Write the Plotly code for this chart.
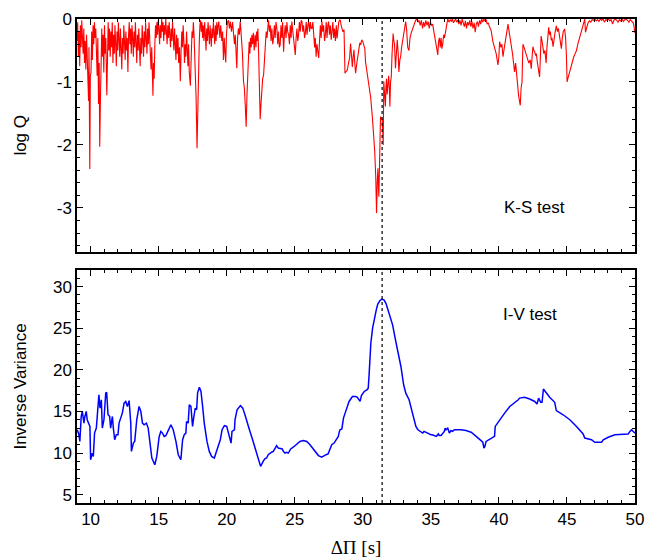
import plotly.graph_objects as go
from plotly.subplots import make_subplots

# --- K-S test: log Q against trial period spacing ---
ks_period = [
    9.00, 9.05, 9.10, 9.15, 9.20, 9.25, 9.30, 9.35, 9.40, 9.45, 9.50, 9.55, 9.60, 9.65, 9.70, 9.75,
    9.80, 9.85, 9.88, 9.94, 9.98, 10.03, 10.08, 10.13, 10.18, 10.23, 10.28, 10.33, 10.38, 10.43, 10.48,
    10.53, 10.58, 10.63, 10.67, 10.72, 10.77, 10.82, 10.87, 10.92, 10.97, 11.02, 11.07, 11.12, 11.19,
    11.24, 11.29, 11.34, 11.39, 11.44, 11.49, 11.54, 11.59, 11.64, 11.69, 11.74, 11.79, 11.84, 11.89,
    11.94, 11.99, 12.04, 12.09, 12.14, 12.19, 12.24, 12.29, 12.34, 12.39, 12.44, 12.49, 12.54, 12.59,
    12.64, 12.69, 12.74, 12.79, 12.84, 12.89, 12.94, 12.99, 13.04, 13.09, 13.14, 13.19, 13.24, 13.29,
    13.34, 13.39, 13.44, 13.49, 13.54, 13.59, 13.64, 13.69, 13.74, 13.79, 13.84, 13.89, 13.94, 13.99,
    14.04, 14.09, 14.14, 14.19, 14.24, 14.29, 14.34, 14.39, 14.44, 14.49, 14.54, 14.58, 14.62, 14.67,
    14.72, 14.77, 14.82, 14.87, 14.92, 14.97, 15.02, 15.07, 15.12, 15.17, 15.22, 15.27, 15.32, 15.37,
    15.42, 15.47, 15.52, 15.57, 15.62, 15.67, 15.72, 15.77, 15.82, 15.87, 15.92, 15.97, 16.02, 16.07,
    16.12, 16.17, 16.22, 16.27, 16.32, 16.37, 16.42, 16.47, 16.53, 16.59, 16.65, 16.70, 16.75, 16.80,
    16.85, 16.90, 16.95, 17.00, 17.05, 17.10, 17.15, 17.20, 17.25, 17.33, 17.40, 17.45, 17.50, 17.55,
    17.60, 17.65, 17.70, 17.75, 17.82, 17.88, 17.93, 17.98, 18.03, 18.08, 18.13, 18.18, 18.23, 18.28,
    18.33, 18.38, 18.43, 18.48, 18.53, 18.58, 18.63, 18.68, 18.73, 18.78, 18.83, 18.87, 18.92, 18.97,
    19.02, 19.07, 19.12, 19.17, 19.22, 19.27, 19.32, 19.37, 19.42, 19.50, 19.56, 19.64, 19.70, 19.76,
    19.82, 19.88, 19.93, 19.98, 20.05, 20.13, 20.20, 20.27, 20.35, 20.43, 20.50, 20.57, 20.63, 20.69,
    20.74, 20.80, 20.86, 20.93, 20.99, 21.05, 21.10, 21.16, 21.23, 21.30, 21.37, 21.43, 21.49, 21.55,
    21.60, 21.65, 21.70, 21.75, 21.80, 21.85, 21.90, 21.96, 22.02, 22.09, 22.15, 22.20, 22.25, 22.29,
    22.34, 22.39, 22.46, 22.52, 22.58, 22.64, 22.71, 22.77, 22.83, 22.90, 22.96, 23.02, 23.07, 23.14,
    23.20, 23.26, 23.32, 23.38, 23.44, 23.50, 23.56, 23.62, 23.69, 23.75, 23.81, 23.87, 23.93, 23.99,
    24.05, 24.11, 24.18, 24.24, 24.30, 24.36, 24.42, 24.48, 24.55, 24.61, 24.67, 24.73, 24.79, 24.86,
    24.92, 24.98, 25.04, 25.10, 25.16, 25.22, 25.28, 25.34, 25.40, 25.47, 25.53, 25.59, 25.65, 25.72,
    25.78, 25.84, 25.90, 25.96, 26.02, 26.09, 26.15, 26.21, 26.27, 26.33, 26.40, 26.46, 26.51, 26.57,
    26.63, 26.70, 26.76, 26.82, 26.88, 26.94, 27.00, 27.06, 27.12, 27.19, 27.25, 27.31, 27.37, 27.43,
    27.49, 27.55, 27.61, 27.68, 27.74, 27.80, 27.86, 27.92, 27.99, 28.05, 28.11, 28.17, 28.23, 28.29,
    28.35, 28.41, 28.47, 28.53, 28.62, 28.69, 28.78, 28.86, 28.95, 29.03, 29.10, 29.17, 29.23, 29.29,
    29.35, 29.41, 29.47, 29.55, 29.64, 29.72, 29.78, 29.84, 29.92, 30.00, 30.08, 30.15, 30.20, 30.32,
    30.45, 30.58, 30.70, 30.80, 30.87, 30.95, 31.01, 31.06, 31.11, 31.15, 31.18, 31.22, 31.25, 31.30,
    31.36, 31.42, 31.47, 31.50, 31.54, 31.60, 31.66, 31.70, 31.74, 31.79, 31.84, 31.90, 31.95, 31.99,
    32.04, 32.09, 32.15, 32.23, 32.28, 32.33, 32.40, 32.47, 32.53, 32.60, 32.65, 32.72, 32.78, 32.85,
    32.90, 32.98, 33.07, 33.15, 33.22, 33.30, 33.39, 33.47, 33.56, 33.64, 33.72, 33.80, 33.88, 33.96,
    34.05, 34.13, 34.22, 34.30, 34.39, 34.47, 34.55, 34.63, 34.72, 34.80, 34.88, 34.96, 35.05, 35.13,
    35.25, 35.38, 35.51, 35.57, 35.63, 35.69, 35.75, 35.81, 35.87, 35.94, 36.00, 36.10, 36.17, 36.24,
    36.33, 36.42, 36.50, 36.58, 36.66, 36.74, 36.82, 36.90, 36.98, 37.06, 37.14, 37.22, 37.30, 37.38,
    37.46, 37.54, 37.62, 37.70, 37.78, 37.86, 37.94, 38.02, 38.10, 38.18, 38.26, 38.34, 38.42, 38.50,
    38.58, 38.66, 38.74, 38.82, 38.90, 38.98, 39.06, 39.14, 39.22, 39.30, 39.43, 39.55, 39.68, 39.80,
    39.93, 40.00, 40.05, 40.15, 40.22, 40.30, 40.40, 40.50, 40.58, 40.67, 40.75, 40.83, 40.91, 41.00,
    41.08, 41.15, 41.23, 41.30, 41.36, 41.44, 41.51, 41.57, 41.63, 41.70, 41.74, 41.77, 41.85, 41.92,
    42.00, 42.10, 42.20, 42.30, 42.38, 42.44, 42.50, 42.57, 42.63, 42.70, 42.75, 42.82, 42.90, 42.99,
    43.05, 43.10, 43.17, 43.24, 43.30, 43.38, 43.47, 43.53, 43.58, 43.66, 43.72, 43.78, 43.85, 43.90,
    43.98, 44.05, 44.12, 44.22, 44.30, 44.37, 44.45, 44.52, 44.59, 44.66, 44.73, 44.83, 44.90, 44.96,
    45.01, 45.10, 45.20, 45.30, 45.40, 45.50, 45.60, 45.70, 45.80, 45.90, 46.00, 46.10, 46.20, 46.31,
    46.36, 46.45, 46.55, 46.65, 46.75, 46.85, 46.95, 47.05, 47.15, 47.25, 47.35, 47.45, 47.55, 47.65,
    47.75, 47.85, 47.95, 48.05, 48.15, 48.25, 48.35, 48.45, 48.55, 48.65, 48.75, 48.85, 48.95, 49.05,
    49.15, 49.25, 49.35, 49.45, 49.55, 49.65, 49.75, 49.87, 49.93, 49.99,
]
ks_logq = [
    -0.35, -0.05, -0.60, -0.20, -0.75, -0.10, -0.45, -0.02, -0.30, -0.55, -0.15, -0.70, -0.35, -0.80, -0.25, -0.60,
    -0.90, -1.30, -0.45, -2.38, -0.90, -0.85, -0.20, -0.65, -0.10, -0.40, -0.05, -0.30, -0.15, -0.55, -0.90,
    -0.30, -1.35, -0.70, -2.03, -1.30, -0.50, -0.15, -0.60, -0.25, -0.85, -0.10, -0.55, -0.30, -1.21,
    -0.40, -0.05, -0.50, -0.15, -0.60, -0.20, -0.45, -0.05, -0.70, -0.25, -0.55, -0.10, -0.40, -0.75,
    -0.20, -0.50, -0.05, -0.35, -0.60, -0.15, -0.45, -0.80, -0.30, -0.55, -0.10, -0.40, -0.65, -0.20,
    -0.50, -0.30, -0.84, -0.25, -0.05, -0.40, -0.15, -0.55, -0.10, -0.30, -0.60, -0.20, -0.45, -0.05,
    -0.35, -0.70, -0.25, -0.50, -0.15, -0.40, -0.75, -0.30, -0.55, -0.10, -0.35, -0.60, -0.20, -0.45,
    -0.05, -0.30, -0.55, -0.15, -0.40, -0.05, -0.25, -0.55, -0.80, -0.45, -0.95, -1.22, -0.70, -0.95,
    -0.40, -0.10, -0.30, -0.05, -0.25, -0.02, -0.15, -0.40, -0.10, -0.30, -0.00, -0.20, -0.05, -0.35,
    -0.10, -0.25, -0.00, -0.15, -0.40, -0.10, -0.30, -0.05, -0.20, -0.45, -0.15, -0.35, -0.05, -0.25,
    -0.50, -0.15, -0.40, -0.65, -0.25, -0.55, -0.30, -0.70, -0.45, -0.99, -0.50, -0.20, -0.45, -0.10,
    -0.35, -0.70, -0.40, -0.60, -0.20, -0.45, -0.75, -0.40, -0.85, -1.06, -0.50, -0.20, -0.30, -0.05,
    -0.25, -0.50, -0.85, -1.25, -2.05, -1.15, -0.70, -0.40, -0.10, -0.02, -0.20, -0.05, -0.30, -0.10,
    -0.35, -0.05, -0.25, -0.50, -0.15, -0.35, -0.05, -0.20, -0.40, -0.10, -0.30, -0.44, -0.15, -0.30,
    -0.05, -0.25, -0.40, -0.10, -0.35, -0.05, -0.25, -0.10, -0.04, -0.30, -0.10, -0.35, -0.20, -0.65,
    -0.30, -0.55, -0.69, -0.25, -0.05, -0.02, -0.15, -0.04, -0.20, -0.05, -0.20, -0.40, -0.25, -0.55,
    -0.78, -0.30, -0.15, -0.25, -0.04, -0.20, -0.35, -0.56, -0.98, -1.10, -1.40, -1.71, -1.20, -0.85,
    -0.60, -0.36, -0.55, -0.30, -0.45, -0.25, -0.40, -0.22, -0.50, -0.25, -0.45, -0.20, -0.35, -0.15,
    -0.50, -0.89, -1.59, -1.35, -1.10, -0.95, -0.89, -0.60, -0.36, -0.20, -0.30, -0.10, -0.02, -0.20,
    -0.10, -0.35, -0.15, -0.40, -0.31, -0.10, -0.30, -0.05, -0.15, -0.40, -0.20, -0.45, -0.41, -0.10,
    -0.30, -0.05, -0.52, -0.25, -0.10, -0.30, -0.05, -0.20, -0.25, -0.40, -0.10, -0.30, -0.04, -0.20,
    -0.35, -0.45, -0.57, -0.30, -0.15, -0.35, -0.25, -0.05, -0.20, -0.02, -0.04, -0.20, -0.10, -0.30,
    -0.22, -0.05, -0.25, -0.10, -0.04, -0.20, -0.05, -0.15, -0.15, -0.05, -0.25, -0.45, -0.30, -0.60,
    -0.40, -0.50, -0.62, -0.35, -0.10, -0.30, -0.04, -0.20, -0.10, -0.35, -0.25, -0.05, -0.30, -0.10,
    -0.04, -0.25, -0.10, -0.33, -0.20, -0.05, -0.30, -0.15, -0.35, -0.10, -0.31, -0.15, -0.05, -0.02,
    -0.02, -0.10, -0.15, -0.20, -0.17, -0.86, -0.83, -0.81, -0.70, -0.62, -0.39, -0.55, -0.76, -0.60,
    -0.49, -0.70, -0.86, -0.72, -0.60, -0.50, -0.38, -0.41, -0.33, -0.36, -0.42, -0.47, -0.68, -0.85,
    -1.02, -1.25, -1.55, -1.85, -2.08, -2.50, -3.08, -2.60, -2.37, -2.65, -2.82, -2.40, -2.11, -1.55,
    -1.58, -1.60, -1.80, -2.00, -0.99, -1.20, -1.39, -1.10, -0.95, -1.20, -1.10, -0.90, -1.10, -1.39,
    -1.00, -0.92, -0.55, -0.23, -0.35, -0.40, -0.78, -0.45, -0.33, -0.55, -0.84, -0.65, -0.60, -0.45,
    -0.39, -0.25, -0.17, -0.04, -0.17, -0.45, -0.50, -0.30, -0.22, -0.17, -0.10, -0.08, -0.02, -0.00,
    -0.05, -0.02, -0.10, -0.02, -0.15, -0.05, -0.12, -0.02, -0.10, -0.04, -0.15, -0.05, -0.10, -0.08,
    -0.25, -0.40, -0.57, -0.35, -0.30, -0.45, -0.30, -0.47, -0.40, -0.25, -0.30, -0.18, -0.05, -0.00,
    -0.05, -0.01, -0.04, -0.00, -0.06, -0.02, -0.00, -0.05, -0.02, -0.08, -0.02, -0.10, -0.00, -0.06,
    -0.12, -0.03, -0.15, -0.05, -0.10, -0.02, -0.12, -0.04, -0.15, -0.06, -0.21, -0.08, -0.04, -0.12,
    -0.02, -0.08, -0.00, -0.05, -0.00, -0.03, -0.01, -0.08, -0.06, -0.12, -0.18, -0.35, -0.47, -0.55,
    -0.73, -0.60, -0.36, -0.45, -0.40, -0.60, -0.45, -0.32, -0.20, -0.08, -0.20, -0.30, -0.44, -0.55,
    -0.70, -0.84, -0.70, -0.90, -1.05, -1.20, -1.30, -1.37, -1.10, -1.00, -0.60, -0.40, -0.45, -0.50,
    -0.55, -0.62, -0.70, -0.65, -0.79, -0.60, -0.44, -0.50, -0.52, -0.58, -0.55, -0.68, -0.80, -0.92,
    -0.60, -0.27, -0.35, -0.45, -0.55, -0.50, -0.70, -0.45, -0.30, -0.13, -0.25, -0.20, -0.34, -0.30,
    -0.44, -0.30, -0.22, -0.11, -0.20, -0.15, -0.30, -0.35, -0.47, -0.30, -0.20, -0.16, -0.30, -0.58,
    -1.00, -0.92, -0.83, -0.75, -0.68, -0.60, -0.55, -0.50, -0.40, -0.32, -0.25, -0.15, -0.08, -0.00,
    -0.21, -0.12, -0.06, -0.03, -0.05, -0.01, -0.02, -0.00, -0.03, -0.01, -0.04, -0.00, -0.02, -0.00,
    -0.05, -0.01, -0.02, -0.00, -0.03, -0.01, -0.08, -0.02, -0.00, -0.02, -0.05, -0.01, -0.03, -0.00,
    -0.04, -0.01, -0.00, -0.02, -0.05, -0.01, -0.03, -0.06, -0.12, -0.22,
]

# --- I-V test: inverse variance against trial period spacing ---
iv_period = [
    9.02, 9.14, 9.21, 9.31, 9.39, 9.51, 9.58, 9.68, 9.75, 9.88, 9.95, 10.00, 10.12, 10.20, 10.29, 10.42,
    10.49, 10.61, 10.69, 10.79, 10.86, 10.98, 11.11, 11.18, 11.28, 11.40, 11.47, 11.60, 11.67, 11.77,
    11.89, 12.01, 12.09, 12.21, 12.33, 12.46, 12.58, 12.70, 12.83, 12.95, 13.00, 13.14, 13.24, 13.39,
    13.56, 13.69, 13.81, 13.93, 14.10, 14.23, 14.37, 14.50, 14.72, 14.86, 15.04, 15.16, 15.28, 15.41,
    15.53, 15.65, 15.90, 16.07, 16.27, 16.44, 16.63, 16.76, 16.88, 17.00, 17.05, 17.17, 17.25, 17.37,
    17.49, 17.57, 17.69, 17.79, 17.86, 17.99, 18.11, 18.23, 18.35, 18.55, 18.72, 18.89, 19.09, 19.21,
    19.39, 19.53, 19.66, 19.83, 20.00, 20.15, 20.32, 20.39, 20.57, 20.61, 20.76, 21.01, 21.18, 21.38,
    21.55, 21.67, 21.92, 22.11, 22.29, 22.49, 22.60, 22.68, 22.80, 22.93, 23.05, 23.17, 23.30, 23.42,
    23.55, 23.67, 23.79, 23.96, 24.08, 24.16, 24.28, 24.40, 24.52, 24.60, 24.70, 24.89, 25.14, 25.38,
    25.63, 25.88, 26.12, 26.30, 26.49, 26.74, 26.98, 27.15, 27.30, 27.45, 27.59, 27.72, 27.89, 28.09,
    28.20, 28.28, 28.33, 28.46, 28.58, 28.70, 28.87, 28.99, 29.24, 29.48, 29.60, 29.80, 29.90, 30.10,
    30.30, 30.40, 30.47, 30.54, 30.59, 30.72, 30.84, 30.99, 31.10, 31.25, 31.40, 31.55, 31.70, 31.82,
    31.99, 32.19, 32.40, 32.66, 32.80, 33.00, 33.16, 33.40, 33.66, 33.83, 33.90, 34.05, 34.20, 34.40,
    34.50, 34.62, 34.85, 35.00, 35.10, 35.20, 35.40, 35.55, 35.62, 35.75, 35.90, 35.99, 36.05, 36.12,
    36.24, 36.36, 36.48, 36.60, 36.72, 36.98, 37.22, 37.58, 37.96, 38.33, 38.70, 38.82, 38.90, 38.97,
    39.06, 39.30, 39.68, 39.73, 40.05, 40.42, 40.80, 41.05, 41.42, 41.52, 41.89, 42.26, 42.63, 42.80,
    42.92, 43.07, 43.17, 43.27, 43.49, 43.73, 44.10, 44.22, 44.72, 45.21, 45.70, 46.19, 46.31, 46.80,
    47.05, 47.54, 47.67, 48.03, 48.52, 49.13, 49.50, 49.63, 49.75, 49.87, 50.00,
]
iv_value = [
    12.8, 12.2, 11.4, 14.4, 15.0, 13.6, 14.4, 15.0, 14.0, 13.4, 13.2, 9.2, 10.0, 9.6, 12.4, 13.0,
    14.4, 17.0, 15.4, 16.4, 13.0, 14.0, 17.2, 17.3, 14.6, 14.4, 13.0, 14.4, 13.0, 11.6,
    12.2, 12.2, 13.6, 14.2, 14.8, 16.0, 16.2, 15.6, 16.3, 13.6, 10.2, 11.2, 11.4, 14.0,
    15.6, 15.0, 13.6, 13.4, 13.6, 13.0, 11.2, 9.4, 8.6, 9.6, 12.0, 12.6, 12.4, 12.0,
    12.1, 12.6, 13.4, 12.8, 11.4, 9.8, 9.2, 11.6, 12.2, 12.4, 13.8, 13.6, 15.8, 15.6,
    13.2, 14.2, 15.4, 15.2, 17.2, 17.9, 17.4, 15.6, 13.6, 11.4, 10.2, 9.6, 9.4, 10.0,
    10.8, 11.6, 12.8, 13.3, 13.2, 12.4, 11.2, 12.6, 12.8, 14.0, 15.2, 15.7, 15.4, 14.4,
    13.6, 12.8, 11.5, 10.6, 9.5, 8.4, 8.9, 9.0, 9.3, 9.4, 9.8, 10.0, 10.1, 10.2,
    10.6, 10.9, 10.6, 10.5, 10.5, 10.2, 10.0, 10.1, 10.0, 10.2, 10.5, 10.7, 11.1, 11.4,
    11.5, 11.4, 11.0, 10.6, 10.2, 9.7, 9.5, 9.7, 9.8, 9.9, 10.4, 11.0, 11.2, 11.8,
    12.0, 12.6, 12.8, 12.9, 14.2, 14.8, 15.6, 16.2, 16.8, 16.8, 16.7, 16.2, 16.9, 17.4,
    17.6, 17.8, 19.6, 22.4, 23.2, 25.0, 26.2, 27.2, 27.9, 28.3, 28.5, 28.4, 28.0, 27.4,
    26.4, 25.4, 23.6, 21.6, 20.4, 18.2, 17.2, 16.4, 14.8, 13.9, 13.2, 12.8, 12.6, 12.4,
    12.6, 12.5, 12.3, 12.2, 12.2, 12.1, 12.0, 12.3, 12.1, 12.1, 12.4, 12.6, 13.0, 12.8,
    13.0, 12.4, 12.7, 12.6, 12.8, 12.8, 12.8, 12.7, 12.5, 12.0, 11.4, 11.3, 10.6, 10.8,
    11.4, 11.6, 12.0, 13.2, 14.0, 14.8, 15.6, 15.9, 16.4, 16.6, 16.7, 16.5, 16.2, 15.9,
    16.6, 16.1, 16.1, 17.7, 17.2, 16.7, 16.1, 15.1, 14.6, 14.0, 13.2, 12.3, 11.8, 11.6,
    11.3, 11.3, 11.6, 11.9, 12.2, 12.3, 12.3, 12.6, 12.8, 12.6, 12.4,
]

best_period = 31.42

x_ticks = [10, 15, 20, 25, 30, 35, 40, 45, 50]
ks_ticks = [0, -1, -2, -3]
ks_tick_text = ['0', '-1', '-2', '-3']
iv_ticks = [5, 10, 15, 20, 25, 30]

font = dict(family='Liberation Sans, Arial, sans-serif', size=17, color='black')

fig = make_subplots(rows=2, cols=1, shared_xaxes=True, vertical_spacing=0.037)

fig.add_trace(go.Scatter(x=ks_period, y=ks_logq, mode='lines',
                         line=dict(color='#ff0000', width=1.1)), row=1, col=1)
fig.add_trace(go.Scatter(x=iv_period, y=iv_value, mode='lines',
                         line=dict(color='#0000ff', width=1.5)), row=2, col=1)

axis_style = dict(showline=True, linecolor='black', linewidth=1.5, mirror='allticks',
                  ticks='inside', ticklen=6, tickwidth=1, tickcolor='black',
                  showgrid=False, zeroline=False, tickfont=font, automargin=False)

fig.update_xaxes(range=[9, 50], tickvals=x_ticks, **axis_style,
                 minor=dict(dtick=1, ticks='inside', ticklen=3, tickcolor='black', showgrid=False))
fig.update_xaxes(showticklabels=False, row=1, col=1)
fig.update_xaxes(title=dict(text='ΔΠ [s]', font=dict(family='Liberation Serif, Times New Roman, serif',
                                                      size=19, color='black'), standoff=13), row=2, col=1)

fig.update_yaxes(range=[-3.7, 0], tickvals=ks_ticks, ticktext=ks_tick_text, **axis_style,
                 minor=dict(dtick=0.2, ticks='inside', ticklen=3, tickcolor='black', showgrid=False),
                 row=1, col=1)
fig.update_yaxes(range=[4, 32], tickvals=iv_ticks, **axis_style,
                 minor=dict(dtick=1, ticks='inside', ticklen=3, tickcolor='black', showgrid=False),
                 row=2, col=1)

# dotted marker at the best period spacing
for r in (1, 2):
    yref = 'y domain' if r == 1 else 'y2 domain'
    xref = 'x' if r == 1 else 'x2'
    fig.add_shape(type='line', x0=best_period, x1=best_period, y0=0, y1=1, xref=xref, yref=yref,
                  line=dict(color='black', width=1.2, dash='dot'))

fig.add_annotation(x=42.6, y=-3.0, xref='x', yref='y', text='K-S test', showarrow=False, font=font)
fig.add_annotation(x=42.3, y=26.6, xref='x2', yref='y2', text='I-V test', showarrow=False, font=font)

# y-axis titles placed as rotated annotations
fig.add_annotation(x=-0.102, y=0.5, xref='paper', yref='y domain', text='log Q', textangle=-90,
                   xanchor='center', yanchor='middle', showarrow=False, font=font)
fig.add_annotation(x=-0.102, y=0.5, xref='paper', yref='y2 domain', text='Inverse Variance',
                   textangle=-90, xanchor='center', yanchor='middle', showarrow=False, font=font)

fig.update_layout(width=659, height=560, margin=dict(l=77, r=24, t=19, b=57),
                  plot_bgcolor='white', paper_bgcolor='white', showlegend=False, font=font)

# drop the default page margin so the figure sits at the window corner
fig.write_html('out.html', config={'displayModeBar': False},
               post_script="document.body.style.margin='0';")
